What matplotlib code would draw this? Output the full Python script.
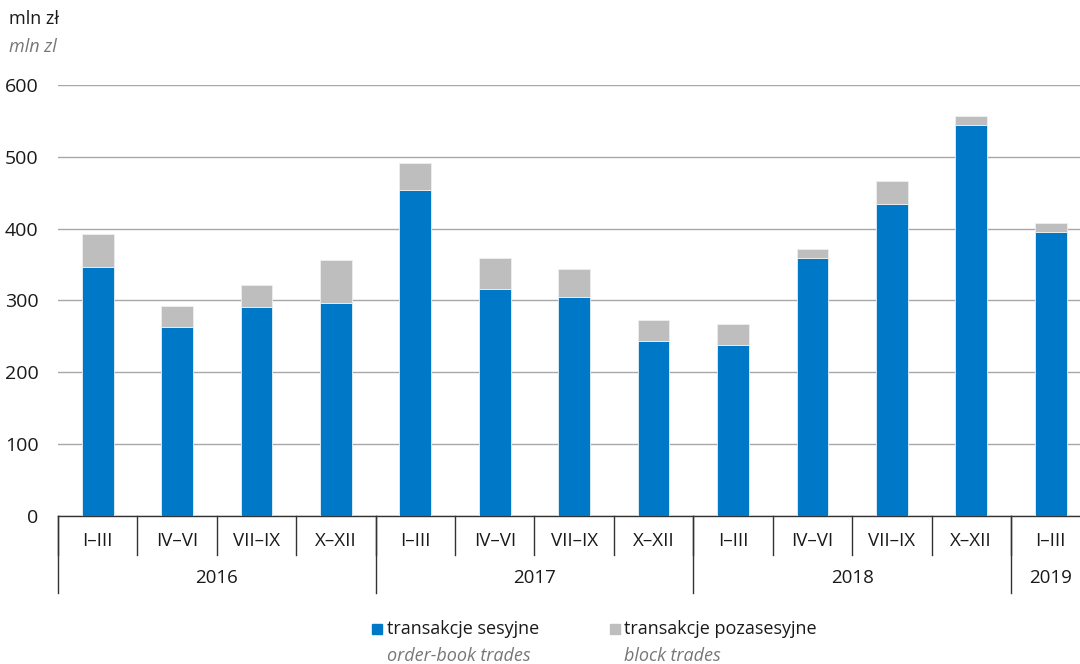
import matplotlib.pyplot as plt
import numpy as np

plt.rcParams['font.family'] = ['Open Sans', 'DejaVu Sans']

quarters = ['I–III', 'IV–VI', 'VII–IX', 'X–XII',
            'I–III', 'IV–VI', 'VII–IX', 'X–XII',
            'I–III', 'IV–VI', 'VII–IX', 'X–XII',
            'I–III']
years = ['2016', '2017', '2018', '2019']
year_span = [4, 4, 4, 1]
sesyjne = [346, 263, 291, 296, 454, 316, 305, 244, 238, 359, 434, 544, 396]
pozasesyjne = [46, 29, 31, 60, 37, 43, 39, 29, 29, 12, 32, 13, 12]

blue = '#0078c8'
grey = '#bebebe'

fig = plt.figure(figsize=(10.8, 6.64), dpi=100)
ax = fig.add_axes([0.0537, 0.2229, 0.9463, 0.6491])

x = np.arange(len(quarters))
ax.bar(x, sesyjne, width=0.4, color=blue, edgecolor='#e8f0f8', linewidth=0.6, zorder=3)
ax.bar(x, pozasesyjne, width=0.4, bottom=sesyjne, color=grey, edgecolor='#eeeeee',
       linewidth=0.6, zorder=3)

ax.set_xlim(-0.5, 12.37)
ax.set_ylim(0, 600)
ax.set_yticks(range(0, 601, 100))
ax.yaxis.grid(True, color='#a8a8a8', linewidth=1.0)
ax.set_axisbelow(True)
for s in ['top', 'right', 'left']:
    ax.spines[s].set_visible(False)
ax.spines['bottom'].set_color('#333333')
ax.spines['bottom'].set_linewidth(1.0)
ax.tick_params(axis='y', length=0, pad=14, labelsize=14, labelcolor='#1a1a1a')
ax.set_xticks([])
for lbl in ax.get_yticklabels():
    lbl.set_horizontalalignment('right')

# multi-level category axis
trans = ax.get_xaxis_transform()
for i, q in enumerate(quarters):
    ax.text(i, -0.058, q, transform=trans, ha='center', va='center', fontsize=13.5,
            color='#1a1a1a')
for b in np.arange(len(quarters)) - 0.5:
    ax.plot([b, b], [0, -0.0905], transform=trans, color='#333333', lw=1.0, clip_on=False)

start = 0
for y, n in zip(years, year_span):
    ax.plot([start - 0.5, start - 0.5], [0, -0.1787], transform=trans, color='#333333',
            lw=1.0, clip_on=False)
    ax.text(start + (n - 1) / 2, -0.144, y, transform=trans, ha='center', va='center',
            fontsize=13.5, color='#1a1a1a')
    start += n

# unit labels
fig.text(0.008, 0.972, 'mln zł', fontsize=13, color='#1a1a1a', va='center')
fig.text(0.008, 0.929, 'mln zl', fontsize=13, color='#777777', style='italic', va='center')

# legend
fig.patches.append(plt.Rectangle((0.3444, 0.045), 0.0093, 0.0151, transform=fig.transFigure,
                                 color=blue))
fig.text(0.358, 0.052, 'transakcje sesyjne', fontsize=13, color='#1a1a1a', va='center')
fig.text(0.358, 0.012, 'order-book trades', fontsize=13, color='#777777', style='italic',
         va='center')
fig.patches.append(plt.Rectangle((0.5648, 0.045), 0.0093, 0.0151, transform=fig.transFigure,
                                 color=grey))
fig.text(0.578, 0.052, 'transakcje pozasesyjne', fontsize=13, color='#1a1a1a', va='center')
fig.text(0.578, 0.012, 'block trades', fontsize=13, color='#777777', style='italic',
         va='center')

fig.savefig('out.png', dpi=100)
